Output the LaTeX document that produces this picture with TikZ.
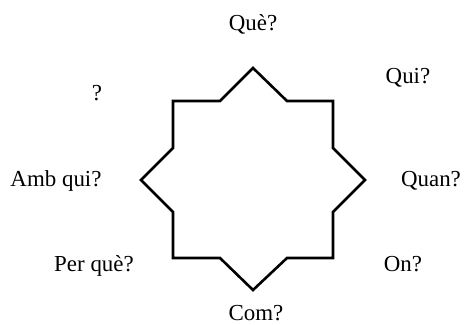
\documentclass[tikz,border=0pt]{standalone}
\usepackage{fontspec}
\setmainfont{Liberation Serif}
\usetikzlibrary{positioning}

\begin{document}
\begin{tikzpicture}[
  x=1bp,y=-1bp,
  lbl/.style={font=\fontsize{23}{28}\selectfont,inner sep=0pt,anchor=base},
  starline/.style={line width=2.6bp,line join=miter}
]
\useasboundingbox (0,0) rectangle (468,324);
% eight-pointed star
\draw[starline] (173,101) -- (220,101) -- (253,68) -- (287,101) -- (333,101)
  -- (333,148) -- (365,180) -- (333,212) -- (333,258)
  -- (287,258) -- (253,290) -- (220,258) -- (173,258)
  -- (173,212) -- (141,180) -- (173,148) -- cycle;
\node[lbl] (que) at (253,30) {Què?};
\node[lbl] (qui) at (408,83) {Qui?};
\node[lbl] (blank) at (97,100) {?};
\node[lbl] (ambqui) at (56,186) {Amb qui?};
\node[lbl] (quan) at (431,186) {Quan?};
\node[lbl] (perque) at (94,271) {Per què?};
\node[lbl] (on) at (403,271) {On?};
\node[lbl] (com) at (256,320) {Com?};
\end{tikzpicture}
\end{document}
